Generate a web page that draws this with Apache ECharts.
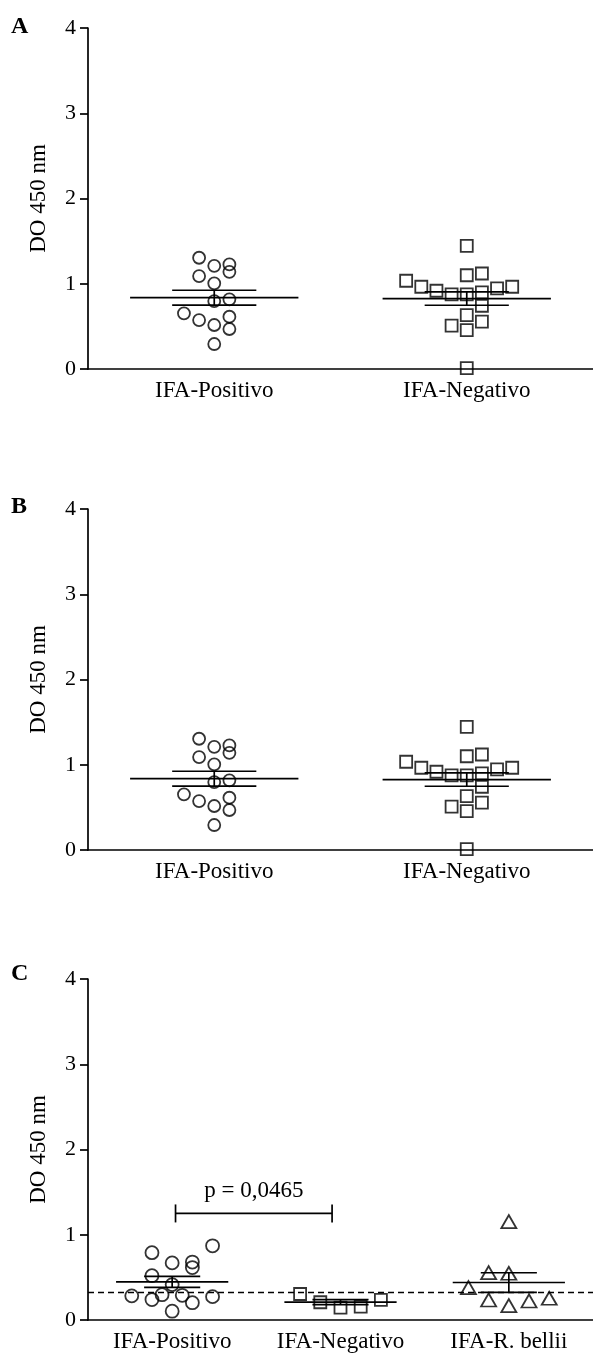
<!DOCTYPE html>
<html>
<head>
<meta charset="utf-8">
<script src="https://cdn.jsdelivr.net/npm/echarts@6/dist/echarts.min.js"></script>
<style>
html,body{margin:0;padding:0;background:#fff;}
#chart{width:593px;height:1356px;}
</style>
</head>
<body>
<div id="chart"></div>
<script>
// ---- data ----
const panelLetters = ['A', 'B', 'C'];
const yAxisTitle = 'DO 450 nm';
const yMin = 0, yMax = 4, yStep = 1;
const catsAB = ['IFA-Positivo', 'IFA-Negativo'];
const catsC = ['IFA-Positivo', 'IFA-Negativo', 'IFA-R. bellii'];

// Panel A
const aPosValues = [1.305, 1.21, 1.227, 1.14, 1.09, 1.005, 0.797, 0.817, 0.653, 0.574, 0.516, 0.613, 0.469, 0.293];
const aPosSlots  = [-1, 0, 1, 1, -1, 0, 0, 1, -2, -1, 0, 1, 1, 0];
const aNegValues = [1.445, 1.10, 1.12, 1.035, 0.965, 0.918, 0.876, 0.876, 0.899, 0.946, 0.965, 0.742, 0.633, 0.555, 0.508, 0.457, 0.01];
const aNegSlots  = [0, 0, 1, -4, -3, -2, -1, 0, 1, 2, 3, 1, 0, 1, -1, 0, 0];

// Panel B
const bPosValues = [1.305, 1.21, 1.227, 1.14, 1.09, 1.005, 0.797, 0.817, 0.653, 0.574, 0.516, 0.613, 0.469, 0.293];
const bPosSlots  = [-1, 0, 1, 1, -1, 0, 0, 1, -2, -1, 0, 1, 1, 0];
const bNegValues = [1.445, 1.10, 1.12, 1.035, 0.965, 0.918, 0.876, 0.876, 0.899, 0.946, 0.965, 0.742, 0.633, 0.555, 0.508, 0.457, 0.01];
const bNegSlots  = [0, 0, 1, -4, -3, -2, -1, 0, 1, 2, 3, 1, 0, 1, -1, 0, 0];

// Panel C
const cPosValues = [0.79, 0.87, 0.67, 0.68, 0.615, 0.52, 0.415, 0.283, 0.24, 0.297, 0.29, 0.203, 0.274, 0.103];
const cPosSlots  = [-2, 4, 0, 2, 2, -2, 0, -4, -2, -1, 1, 2, 4, 0];
const cNegValues = [0.305, 0.208, 0.145, 0.156, 0.235];
const cNegSlots  = [-4, -2, 0, 2, 4];
const cBelValues = [1.154, 0.555, 0.548, 0.38, 0.235, 0.168, 0.223, 0.255];
const cBelSlots  = [0, -2, 0, -4, -2, 0, 2, 4];
const cCutoff = 0.325;
const cPText = 'p = 0,0465';
const cPGroups = [1, 2];
const cPLevel = 1.25;

// ---- helpers ----
const FONT = '"Liberation Serif", "Times New Roman", serif';
const SLOT = 0.06;
function meanSem(arr) {
  const n = arr.length;
  const m = arr.reduce((s, v) => s + v, 0) / n;
  const sd = Math.sqrt(arr.reduce((s, v) => s + (v - m) * (v - m), 0) / (n - 1));
  return [m, sd / Math.sqrt(n)];
}
function pts(values, slots, group) {
  return values.map((v, i) => [group + slots[i] * SLOT, v]);
}

const grids = [
  { left: 88, top: 28, width: 510, height: 341 },
  { left: 88, top: 509, width: 510, height: 341 },
  { left: 88, top: 979, width: 511.5, height: 341 }
];
const panelCats = [catsAB, catsAB, catsC];
const panelGroups = [
  [[aPosValues, aPosSlots, 'circle'], [aNegValues, aNegSlots, 'rect']],
  [[bPosValues, bPosSlots, 'circle'], [bNegValues, bNegSlots, 'rect']],
  [[cPosValues, cPosSlots, 'circle'], [cNegValues, cNegSlots, 'rect'], [cBelValues, cBelSlots, 'triangle']]
];

const xAxes = [], yAxes = [], series = [];
panelCats.forEach((cats, p) => {
  xAxes.push({
    type: 'category', gridIndex: p, data: cats, boundaryGap: true,
    axisLine: { lineStyle: { color: '#000', width: 1.7 } },
    axisTick: { alignWithLabel: true, length: 8, lineStyle: { color: '#000', width: 1.7 } },
    axisLabel: { color: '#000', fontFamily: FONT, fontSize: 23, margin: 10 },
    splitLine: { show: false }
  });
  xAxes.push({
    type: 'value', gridIndex: p, min: 0.5, max: cats.length + 0.5, show: false,
    splitLine: { show: false }
  });
  yAxes.push({
    type: 'value', gridIndex: p, min: yMin, max: yMax, interval: yStep,
    name: yAxisTitle, nameLocation: 'middle', nameGap: 38,
    nameTextStyle: { color: '#000', fontFamily: FONT, fontSize: 23 },
    axisLine: { show: true, lineStyle: { color: '#000', width: 1.7 } },
    axisTick: { show: true, length: 8, lineStyle: { color: '#000', width: 1.7 } },
    axisLabel: { color: '#000', fontFamily: FONT, fontSize: 22, margin: 12 },
    splitLine: { show: false }
  });
  const valAxis = p * 2 + 1;
  const stats = [];
  panelGroups[p].forEach((g, gi) => {
    const [vals, slots, sym] = g;
    series.push({
      type: 'scatter', xAxisIndex: valAxis, yAxisIndex: p,
      symbol: sym, symbolSize: sym === 'triangle' ? [15, 13] : (p === 2 && sym === 'circle' ? 13 : 12),
      itemStyle: { color: 'rgba(255,255,255,0)', borderColor: '#000', borderWidth: 1.8 },
      data: pts(vals, slots, gi + 1), z: 3, silent: true
    });
    const ms = meanSem(vals);
    stats.push([gi + 1, ms[0], ms[1]]);
  });
  series.push({
    type: 'custom', xAxisIndex: valAxis, yAxisIndex: p, silent: true, z: 2,
    data: stats,
    renderItem: function (params, api) {
      const x = api.value(0), m = api.value(1), s = api.value(2);
      const st = { stroke: '#000', lineWidth: 1.7 };
      const l = (a, b) => {
        const p1 = api.coord(a), p2 = api.coord(b);
        return { type: 'line', shape: { x1: p1[0], y1: p1[1], x2: p2[0], y2: p2[1] }, style: st };
      };
      return { type: 'group', children: [
        l([x - 1 / 3, m], [x + 1 / 3, m]),
        l([x - 1 / 6, m + s], [x + 1 / 6, m + s]),
        l([x - 1 / 6, m - s], [x + 1 / 6, m - s]),
        l([x, m - s], [x, m + s])
      ] };
    }
  });
});

// Panel C cutoff line + p-value bracket
series.push({
  type: 'line', xAxisIndex: 5, yAxisIndex: 2, data: [], silent: true,
  markLine: {
    symbol: 'none', silent: true, label: { show: false },
    lineStyle: { color: '#000', type: [6, 4], width: 1.4 },
    data: [{ yAxis: cCutoff }]
  }
});
series.push({
  type: 'custom', xAxisIndex: 5, yAxisIndex: 2, silent: true, z: 4,
  data: [[cPGroups[0], cPGroups[1], cPLevel]],
  renderItem: function (params, api) {
    const a = api.coord([api.value(0) + 0.02, api.value(2)]);
    const b = api.coord([api.value(1) - 0.05, api.value(2)]);
    const st = { stroke: '#000', lineWidth: 1.7 };
    const h = 9;
    return { type: 'group', children: [
      { type: 'line', shape: { x1: a[0], y1: a[1], x2: b[0], y2: b[1] }, style: st },
      { type: 'line', shape: { x1: a[0], y1: a[1] - h, x2: a[0], y2: a[1] + h }, style: st },
      { type: 'line', shape: { x1: b[0], y1: b[1] - h, x2: b[0], y2: b[1] + h }, style: st },
      { type: 'text', x: (a[0] + b[0]) / 2, y: a[1] - 11,
        style: { text: cPText, fill: '#000', font: '23px ' + FONT, textAlign: 'center', textVerticalAlign: 'bottom' } }
    ] };
  }
});

const letterTops = [15, 495, 962];
const chart = echarts.init(document.getElementById('chart'), null, { renderer: 'canvas' });
chart.setOption({
  animation: false,
  backgroundColor: '#fff',
  grid: grids,
  xAxis: xAxes,
  yAxis: yAxes,
  series: series,
  graphic: panelLetters.map((t, i) => ({
    type: 'text', left: 11, top: letterTops[i],
    style: { text: t, fill: '#000', font: 'bold 24px ' + FONT }
  }))
});
</script>
</body>
</html>
